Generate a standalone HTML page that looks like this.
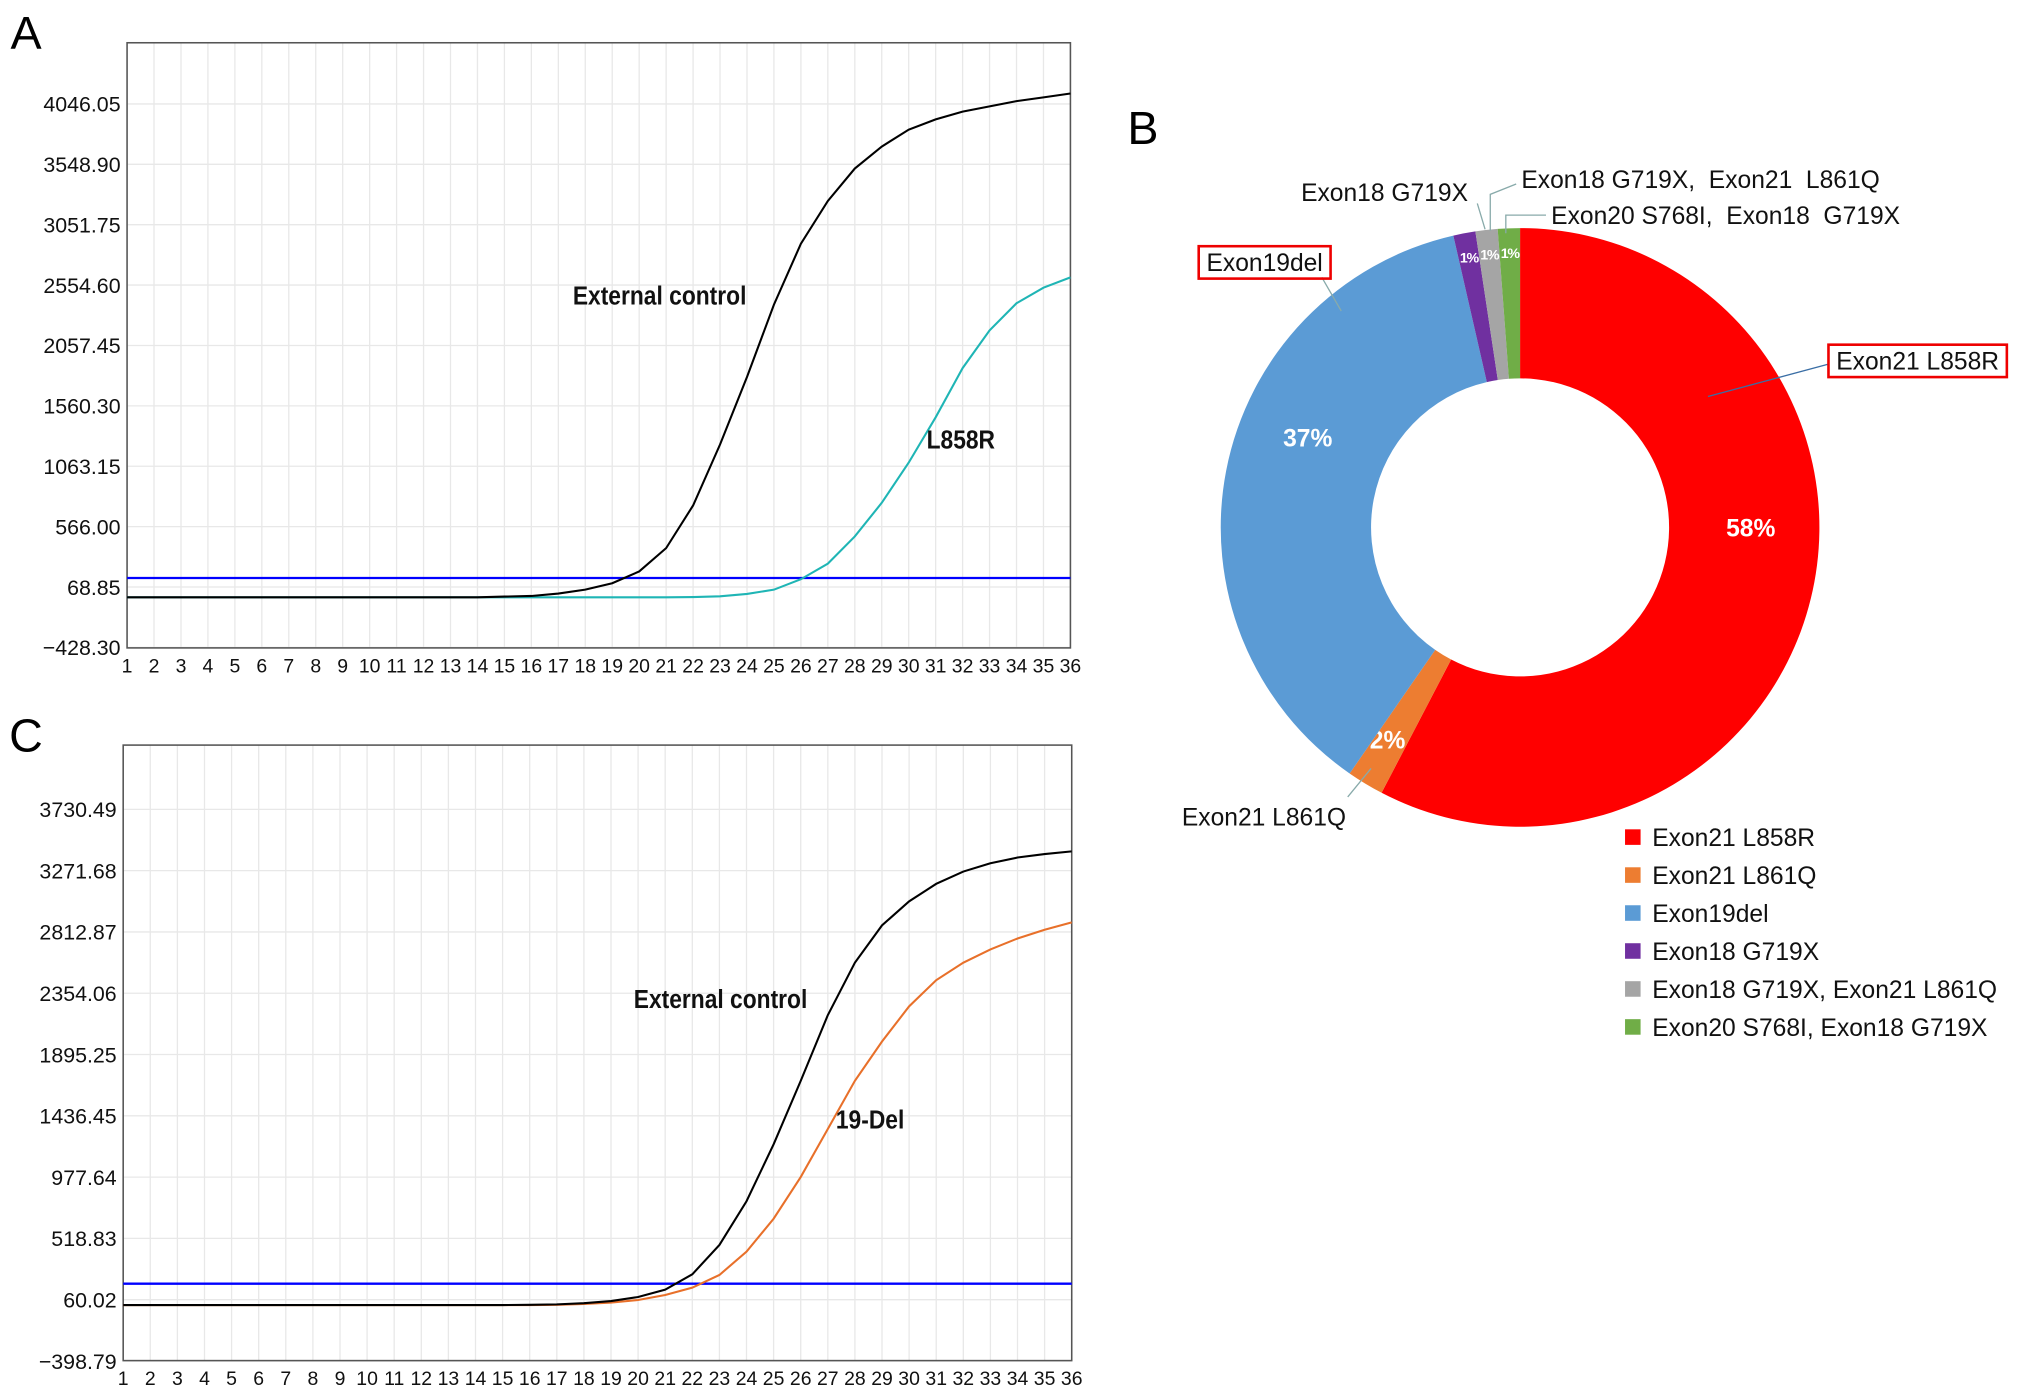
<!DOCTYPE html>
<html><head><meta charset="utf-8"><style>
html,body{margin:0;padding:0;background:#fff}
svg{display:block}
text{font-family:"Liberation Sans",Arial,sans-serif;white-space:pre}
</style></head><body>
<svg id="fig" width="2032" height="1393" viewBox="0 0 1568 1075" xmlns="http://www.w3.org/2000/svg">
<text x="8" y="38" font-size="36">A</text>
<text x="870" y="111" font-size="36">B</text>
<text x="7" y="580" font-size="36">C</text>
<g id="chartA"></g>
<g id="chartC"></g>
<g id="pieB"></g>
</svg>
<script>
const cycles = Array.from({length:36},(_,i)=>i+1);
const aTicks = [-428.30,68.85,566.00,1063.15,1560.30,2057.45,2554.60,3051.75,3548.90,4046.05];
const aTickLabels = ["\u2212428.30","68.85","566.00","1063.15","1560.30","2057.45","2554.60","3051.75","3548.90","4046.05"];
const aControl = [-16,-16,-16,-16,-16,-16,-16,-16,-16,-16,-16,-16,-16,-16,-10,-5,15,47,100,197,389,740,1242,1798,2394,2895,3247,3514,3695,3834,3919,3983,4026,4069,4100,4132];
const aL858R = [-16,-16,-16,-16,-16,-16,-16,-16,-16,-16,-16,-16,-16,-16,-16,-16,-16,-16,-16,-16,-16,-14,-8,12,47,133,261,485,762,1093,1466,1871,2181,2405,2533,2618];
const aThreshold = 143;
const cTicks = [-398.79,60.02,518.83,977.64,1436.45,1895.25,2354.06,2812.87,3271.68,3730.49];
const cTickLabels = ["\u2212398.79","60.02","518.83","977.64","1436.45","1895.25","2354.06","2812.87","3271.68","3730.49"];
const cControl = [20,20,20,20,20,20,20,20,20,20,20,20,20,20,20,22,25,34,50,80,135,250,470,797,1223,1698,2190,2583,2862,3042,3173,3265,3327,3370,3396,3416];
const cDel19 = [20,20,20,20,20,20,20,20,20,20,20,20,20,20,20,20,22,28,38,58,95,150,245,420,666,978,1338,1699,1993,2256,2452,2583,2682,2764,2829,2885];
const cThreshold = 180;
const pieLabels = ["Exon21 L858R","Exon21 L861Q","Exon19del","Exon18 G719X","Exon18 G719X, Exon21 L861Q","Exon20 S768I, Exon18 G719X"];
const pieValues = [58,2,37,1.2,1.2,1.2];
const piePct = ["58%","2%","37%","1%","1%","1%"];
const pieColors = ["#ff0000","#ed7d31","#5b9bd5","#7030a0","#a5a5a5","#70ad47"];
const pctAngleDeg = [90,212,293,null,null,null];

const NS="http://www.w3.org/2000/svg";
function mk(parent,tag,attrs,txt){const e=document.createElementNS(NS,tag);for(const k in attrs)e.setAttribute(k,attrs[k]);if(txt!==undefined)e.textContent=txt;parent.appendChild(e);return e;}

function drawChart(g,cfg){
  const {x0,x1,y0,y1,ref,refY,pxPerStep,step,ticks,labels,series,thr,notes}=cfg;
  const xs=c=>x0+(c-1)*(x1-x0)/35;
  const ys=v=>refY-(v-ref)/step*pxPerStep;
  cycles.forEach(c=>{const l=mk(g,'line',{x1:xs(c),x2:xs(c),y1:y0,y2:y1,stroke:'#e8e8e8','stroke-width':1});
    
    
    const t=mk(g,'text',{x:xs(c),y:y1+19,'font-size':15,'text-anchor':'middle',fill:'#111'},String(c));
    
    });
  ticks.forEach((v,i)=>{const y=ys(v);
    const l=mk(g,'line',{x1:x0,x2:x1,y1:y,y2:y,stroke:'#e8e8e8','stroke-width':1});
    
    
    const t=mk(g,'text',{x:x0-5,y:y+6,'font-size':16.5,'text-anchor':'end',fill:'#111'},labels[i]);
    
    });
  const fr=mk(g,'rect',{x:x0,y:y0,width:x1-x0,height:y1-y0,fill:'none',stroke:'#555','stroke-width':1.2});
  
  
  const th=mk(g,'line',{x1:x0,x2:x1,y1:ys(thr),y2:ys(thr),stroke:'#0000ff','stroke-width':1.8});
  
  
  series.forEach(s=>{const p=mk(g,'polyline',{points:s.data.map((v,i)=>xs(cycles[i])+','+ys(v)).join(' '),fill:'none',stroke:s.color,'stroke-width':1.6});
    
    });
  notes.forEach(n=>{const t=mk(g,'text',{x:n.x,y:n.y,'font-size':20,'font-weight':'bold',fill:'#111',transform:`translate(${n.x},0) scale(0.88,1) translate(${-n.x},0)`},n.t);
    
    });
}
drawChart(document.getElementById('chartA'),{x0:98,x1:826,y0:33,y1:500,ref:68.85,refY:453,pxPerStep:46.6,step:497.15,ticks:aTicks,labels:aTickLabels,thr:aThreshold,
  series:[{data:aL858R,color:'#1fb5b5',name:'l858r-curve'},{data:aControl,color:'#000',name:'external-control-curve'}],
  notes:[{x:442,y:235,t:'External control',name:'external-control-annotation'},{x:715,y:346,t:'L858R',name:'l858r-annotation'}]});
drawChart(document.getElementById('chartC'),{x0:95,x1:827,y0:575,y1:1050,ref:60.02,refY:1003,pxPerStep:47.3,step:458.81,ticks:cTicks,labels:cTickLabels,thr:cThreshold,
  series:[{data:cDel19,color:'#e8702a',name:'19-del-curve'},{data:cControl,color:'#000',name:'external-control-curve'}],
  notes:[{x:489,y:778,t:'External control',name:'external-control-annotation'},{x:645,y:871,t:'19-Del',name:'19-del-annotation'}]});

(function(){
  const g=document.getElementById('pieB');
  const cx=1173,cy=407,R=231,r=115;
  const total=pieValues.reduce((a,b)=>a+b,0);
  let a0=0;
  const pt=(ang,rad)=>[cx+rad*Math.sin(ang),cy-rad*Math.cos(ang)];
  pieValues.forEach((v,i)=>{
    const a1=a0+v/total*2*Math.PI;const big=(a1-a0)>Math.PI?1:0;
    const [x1,y1]=pt(a0,R),[x2,y2]=pt(a1,R),[x3,y3]=pt(a1,r),[x4,y4]=pt(a0,r);
    const p=mk(g,'path',{d:`M${x1},${y1}A${R},${R} 0 ${big} 1 ${x2},${y2}L${x3},${y3}A${r},${r} 0 ${big} 0 ${x4},${y4}Z`,fill:pieColors[i]});
    
    
    const small=v<1.5;
    const am=pctAngleDeg[i]!==null?pctAngleDeg[i]*Math.PI/180:(a0+a1)/2;
    const rad=small?212:(i===1?193:178);
    const [tx,ty]=pt(am,rad);
    const t=mk(g,'text',{x:tx,y:ty+(small?4:7),'text-anchor':'middle','font-size':small?11:19,'font-weight':'bold',fill:'#fff','letter-spacing':small?'-1':'0'},piePct[i]);
    
    
    a0=a1;
  });
  const call=[
    {t:'Exon18 G719X',x:1004,y:155,box:false,line:'1140,157 1146,177'},
    {t:'Exon18 G719X,  Exon21  L861Q',x:1174,y:145,box:false,line:'1170,142 1150,150 1150,178'},
    {t:'Exon20 S768I,  Exon18  G719X',x:1197,y:173,box:false,line:'1193,166 1162,166 1162,180'},
    {t:'Exon19del',x:931,y:209,box:true,line:'1020,214 1035,240'},
    {t:'Exon21 L858R',x:1417,y:285,box:true,line:'1411,281 1318,306'},
    {t:'Exon21 L861Q',x:912,y:637,box:false,line:'1040,615 1058,593'}];
  call.forEach(c=>{
    const l=mk(g,'polyline',{points:c.line,fill:'none',stroke:c.t==='Exon21 L858R'?'#3a6ea5':'#8aa','stroke-width':1});
    
    
    const t=mk(g,'text',{x:c.x,y:c.y,'font-size':19,fill:'#111'},c.t);
    
    
    if(c.box){const w=t.getComputedTextLength();const b=mk(g,'rect',{x:c.x-6,y:c.y-19,width:w+12,height:25,fill:'none',stroke:'#e00','stroke-width':2});
      
      }
  });
  pieLabels.forEach((lab,i)=>{const y=646+i*29.3;
    const s=mk(g,'rect',{x:1254,y:y-6,width:12,height:12,fill:pieColors[i]});
    
    
    const t=mk(g,'text',{x:1275,y:y+7,'font-size':19,fill:'#111'},lab);
    
    });
})();
</script>
</body></html>
